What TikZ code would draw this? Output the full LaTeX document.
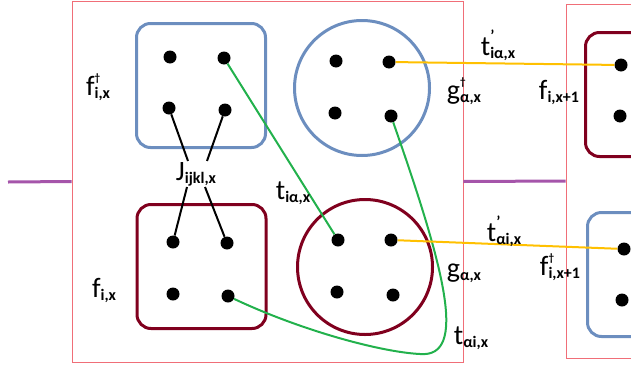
\documentclass[tikz,border=0pt]{standalone}
\usepackage{fontspec}
\setmainfont{Carlito}
\definecolor{boxblue}{RGB}{108,142,191}
\definecolor{boxred}{RGB}{128,0,30}
\definecolor{framepink}{RGB}{240,110,120}
\definecolor{chain}{RGB}{165,85,170}
\definecolor{hopgreen}{RGB}{34,177,76}
\definecolor{hopyellow}{RGB}{255,192,0}
\newcommand\opname[3]{#1\rlap{\raisebox{14pt}{\fontsize{11}{11}\selectfont\bfseries #3}}{\fontsize{16}{16}\selectfont\bfseries\raisebox{-3pt}{#2}}}
\tikzset{dot/.style={circle, fill=black, inner sep=0pt, minimum size=13pt}}
\tikzset{cell/.style={draw=#1, line width=3pt, rounded corners=14pt,
           minimum width=129pt, minimum height=124pt},
         cell/.default=boxblue}
\tikzset{orb/.style={draw=#1, circle, line width=3pt, inner sep=0pt, minimum size=135pt}}
\tikzset{frame/.style={draw=framepink, line width=0.8pt, inner sep=0pt}}
\tikzset{lbl/.style={font=\fontsize{28}{28}\selectfont, inner sep=1pt}}

\begin{document}
\begin{tikzpicture}[x=1pt,y=-1pt]
    \useasboundingbox (0,0) rectangle (631,367);
    \clip (0,0) rectangle (631,367);
    % unit cells and the chain
    \node[frame, minimum width=391pt, minimum height=361pt] (cellx) at (267.5,181.5) {};
    \node[frame, minimum width=200pt, minimum height=354pt] (cellnext) at (666,181) {};
    \coordinate (lead) at (8,182);
    \draw[chain, line width=3pt] (lead) -- (cellx.west);
    \draw[chain, line width=3pt] (cellx.east) -- (cellnext.west);
    % sites
    \node[cell=boxblue] (fd) at (201,85.5) {};
    \node[cell=boxred] (f) at (201.5,266.5) {};
    \node[orb=boxblue] (gd) at (362,88) {};
    \node[orb=boxred] (g) at (365,267) {};
    \node[cell=boxred] (fn) at (650,94.5) {};
    \node[cell=boxblue] (fdn) at (652,274.5) {};
    \foreach \n/\x/\y in {fd1/170/57, fd2/224/58, fd3/169/108, fd4/225/110,
                          f1/173/242, f2/227/243, f3/173/294, f4/228/296,
                          gd1/336/61, gd2/389/62, gd3/335/113, gd4/391/116,
                          g1/338/240, g2/391/240, g3/337/292, g4/393/295,
                          fn1/621/65, fn2/620/116, fdn1/624/249, fdn2/622/300}
      \node[dot] (\n) at (\x,\y) {};
    % interaction
    \node[lbl] (J) at (196,174) {\opname{J}{ijkl,x}{}};
    \draw[line width=2pt] (fd3) -- ([xshift=-8pt]J.north);
    \draw[line width=2pt] (fd4) -- ([xshift=11pt]J.north);
    \draw[line width=2pt] ([xshift=-9pt]J.south) -- (f1);
    \draw[line width=2pt] ([xshift=9pt]J.south) -- (f2);
    % hopping inside the cell
    \draw[hopgreen, line width=2pt] (fd2) -- (g1);
    \draw[hopgreen, line width=2pt] (gd4) .. controls (445,270) and (468,358) .. (420,354)
      .. controls (380,352) and (300,330) .. (f4);
    % hopping to the next cell
    \draw[hopyellow, line width=2pt] (gd2) -- (fn1);
    \draw[hopyellow, line width=2pt] (g2) -- (fdn1);
    % labels
    \node[lbl] (lfd) at (98,87) {\opname{f}{i,x}{†}};
    \node[lbl] (lf) at (104,290) {\opname{f}{i,x}{}};
    \node[lbl] (lgd) at (464,91) {\opname{g}{α,x}{†}};
    \node[lbl] (lg) at (464,273) {\opname{g}{α,x}{}};
    \node[lbl] (lfn) at (559,92) {\opname{f}{i,x+1}{}};
    \node[lbl] (lfdn) at (560,267) {\opname{f}{i,x+1}{†}};
    \node[lbl] (ltia) at (293,193) {\opname{t}{iα,x}{}};
    \node[lbl] (ltai) at (471,338) {\opname{t}{αi,x}{}};
    \node[lbl] (ltpia) at (498,45) {\opname{t}{iα,x}{\fontsize{16}{16}\selectfont'}};
    \node[lbl] (ltpai) at (504,231) {\opname{t}{αi,x}{\fontsize{16}{16}\selectfont'}};
\end{tikzpicture}
\end{document}
